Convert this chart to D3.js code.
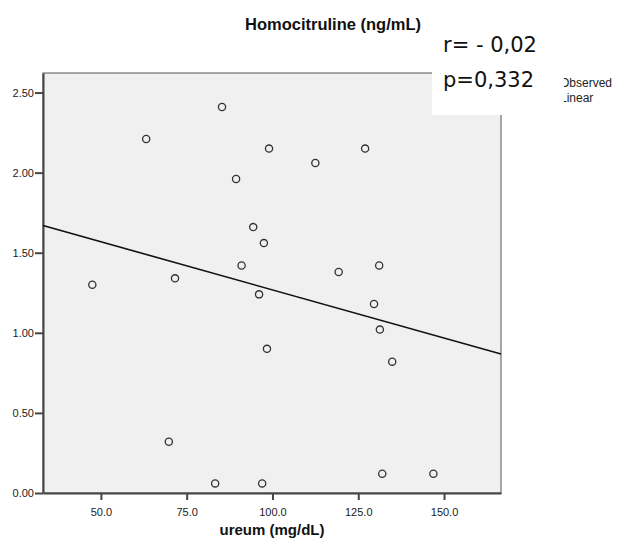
<!DOCTYPE html>
<html>
<head>
<meta charset="utf-8">
<script src="https://cdn.jsdelivr.net/npm/d3@7"></script>
<style>
  body { margin: 0; background: #fff; }
  svg { display: block; }
</style>
</head>
<body>
<div id="chart"></div>
<script>
// ureum (mg/dL) and homocitruline (ng/mL)
var ureum = [47.5, 63.2, 71.6, 69.8, 85.3, 89.4, 99.0, 94.4, 97.5, 91.0, 96.1, 98.4,
             83.3, 97.0, 112.5, 127.0, 119.3, 131.1, 129.6, 131.3, 134.9, 132.0, 146.9];
var homocit = [1.30, 2.21, 1.34, 0.32, 2.41, 1.96, 2.15, 1.66, 1.56, 1.42, 1.24, 0.90,
               0.06, 0.06, 2.06, 2.15, 1.38, 1.42, 1.18, 1.02, 0.82, 0.12, 0.12];
// linear fit as drawn: y = a + b*x
var fit = {a: 1.869, b: -0.00601};
var xTicks = [50, 75, 100, 125, 150];
var yTicks = [0, 0.5, 1.0, 1.5, 2.0, 2.5];
var stats = ["r= - 0,02", "p=0,332"];
var legend = ["Observed", "Linear"];

var W = 622, H = 539;
var margin = {left: 43, right: 121, top: 73, bottom: 46};
var width = W - margin.left - margin.right,
    height = H - margin.top - margin.bottom;

var svg = d3.select("#chart").append("svg")
    .attr("width", W)
    .attr("height", H)
    .style("font-family", "'Liberation Sans', Arial, sans-serif");

var g = svg.append("g")
    .attr("transform", "translate(" + margin.left + "," + margin.top + ")");

var x = d3.scaleLinear().domain([33.13, 166.6]).range([0, width]);
var y = d3.scaleLinear().domain([0, 2.622]).range([height, 0]);

// plot area
g.append("rect")
    .attr("width", width)
    .attr("height", height)
    .attr("fill", "#f0f0f0")
    .attr("stroke", "#555")
    .attr("stroke-width", 1);

var xAxis = g.append("g")
    .attr("transform", "translate(0," + height + ")")
    .call(d3.axisBottom(x).tickValues(xTicks).tickFormat(d3.format(".1f")).tickSize(7).tickSizeOuter(0));
var yAxis = g.append("g")
    .call(d3.axisLeft(y).tickValues(yTicks).tickFormat(d3.format(".2f")).tickSize(8).tickSizeOuter(0));

[xAxis, yAxis].forEach(function(a) {
  a.select(".domain").attr("stroke", "#444").attr("stroke-width", 2);
  a.selectAll(".tick line").attr("stroke", "#444").attr("stroke-width", 2);
  a.selectAll(".tick text").attr("fill", "#222").style("font-size", "11px");
});
xAxis.selectAll(".tick text").attr("dy", "1.2em");
yAxis.selectAll(".tick text").attr("x", -9).attr("dy", "0.35em");

// fit line
var x0 = x.domain()[0], x1 = x.domain()[1];
g.append("line")
    .attr("x1", x(x0)).attr("y1", y(fit.a + fit.b * x0))
    .attr("x2", x(x1)).attr("y2", y(fit.a + fit.b * x1))
    .attr("stroke", "#111")
    .attr("stroke-width", 1.6);

// points
g.selectAll("circle.pt")
    .data(ureum)
    .enter()
    .append("circle")
    .attr("class", "pt")
    .attr("cx", function(d) { return x(d); })
    .attr("cy", function(d, i) { return y(homocit[i]); })
    .attr("r", 3.6)
    .attr("fill", "none")
    .attr("stroke", "#333")
    .attr("stroke-width", 1.3);

// titles
svg.append("text")
    .attr("x", 333).attr("y", 30)
    .attr("text-anchor", "middle")
    .style("font-size", "16.5px").style("font-weight", "bold")
    .attr("fill", "#111")
    .text("Homocitruline (ng/mL)");

svg.append("text")
    .attr("x", margin.left + width / 2).attr("y", 535)
    .attr("text-anchor", "middle")
    .style("font-size", "15px").style("font-weight", "bold")
    .attr("fill", "#111")
    .text("ureum (mg/dL)");

// legend (partly hidden by the pasted box)
svg.selectAll("text.leg")
    .data(legend)
    .enter()
    .append("text")
    .attr("class", "leg")
    .attr("x", 560)
    .attr("y", function(d, i) { return 87 + i * 15; })
    .style("font-size", "12px")
    .attr("fill", "#222")
    .text(function(d) { return d; });

// white box with stats
svg.append("rect")
    .attr("x", 432).attr("y", 18)
    .attr("width", 132).attr("height", 97)
    .attr("fill", "#fff");

svg.selectAll("text.stat")
    .data(stats)
    .enter()
    .append("text")
    .attr("class", "stat")
    .attr("x", 443)
    .attr("y", function(d, i) { return 52 + i * 35; })
    .style("font-family", "'DejaVu Sans', sans-serif")
    .style("font-size", "21px")
    .attr("fill", "#111")
    .text(function(d) { return d; });
</script>
</body>
</html>
